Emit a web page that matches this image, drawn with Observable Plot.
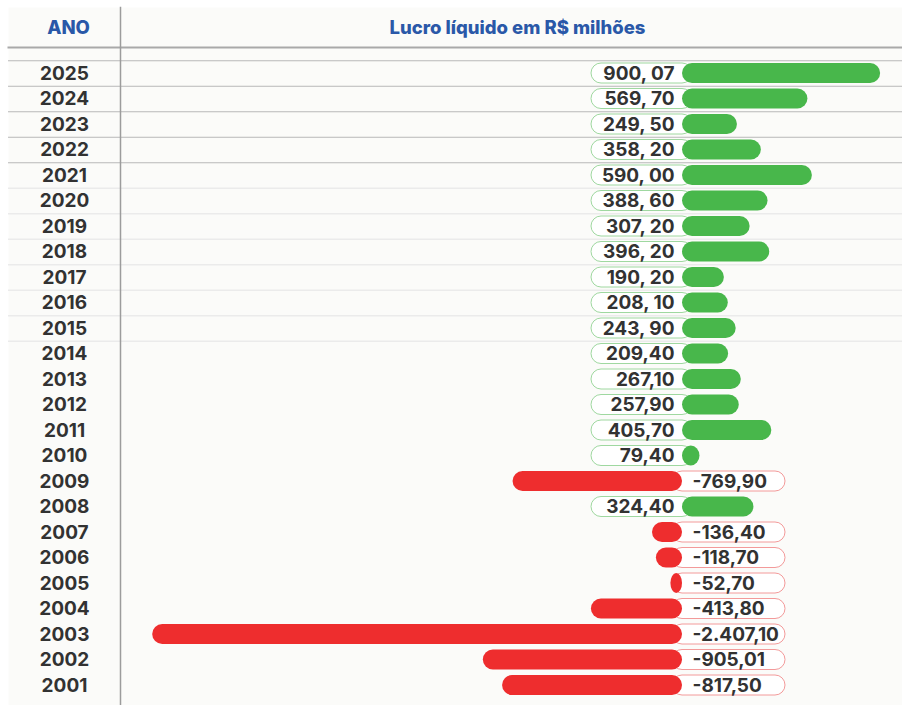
<!DOCTYPE html>
<html>
<head>
<meta charset="utf-8">
<script src="https://cdn.jsdelivr.net/npm/d3@7"></script>
<script src="https://cdn.jsdelivr.net/npm/@observablehq/plot@0.6"></script>
<style>
  html, body { margin: 0; padding: 0; background: #ffffff; }
  #chart svg { display: block; }
</style>
</head>
<body>
<div id="chart"></div>
<script>
// ---- data ----
const years = [2025, 2024, 2023, 2022, 2021, 2020, 2019, 2018, 2017, 2016, 2015, 2014, 2013,
               2012, 2011, 2010, 2009, 2008, 2007, 2006, 2005, 2004, 2003, 2002, 2001];
const values = [900.07, 569.70, 249.50, 358.20, 590.00, 388.60, 307.20, 396.20, 190.20, 208.10,
                243.90, 209.40, 267.10, 257.90, 405.70, 79.40, -769.90, 324.40, -136.40, -118.70,
                -52.70, -413.80, -2407.10, -905.01, -817.50];
const labels = ["900, 07", "569, 70", "249, 50", "358, 20", "590, 00", "388, 60", "307, 20",
                "396, 20", "190, 20", "208, 10", "243, 90", "209,40", "267,10", "257,90",
                "405,70", "79,40", "-769,90", "324,40", "-136,40", "-118,70", "-52,70",
                "-413,80", "-2.407,10", "-905,01", "-817,50"];
const headerYear = "ANO";
const headerValue = "Lucro líquido em R$ milhões";
const darkSeparatorYears = [2025, 2024, 2023, 2022];
const lightSeparatorYears = [2021, 2020, 2019, 2018, 2017, 2016, 2015];

// ---- build table ----
const data = years.map((y, i) => ({year: String(y), value: values[i], label: labels[i]}));
const pos = data.filter(d => d.value >= 0);
const neg = data.filter(d => d.value < 0);

const GREEN = "#48b74b", RED = "#ee2d2e", BLUE = "#2a58a8", TEXT = "#323232";
const FONT = "Inter, 'Noto Sans', sans-serif";

const chart = Plot.plot({
  width: 902,
  height: 705,
  marginTop: 60.25,
  marginBottom: 7.25,
  marginLeft: 0,
  marginRight: 0,
  style: {background: "transparent", fontFamily: FONT},
  x: {domain: [-3098.6, 999.5], axis: null},
  y: {domain: years.map(String), padding: 0, round: false, axis: null},
  marks: [
    // panel background
    Plot.frame({fill: "#fbfbf9", stroke: "none", insetTop: -53.25, insetBottom: -7.25, insetLeft: 8}),
    // separators
    Plot.ruleY(lightSeparatorYears, {y: d => String(d), dy: 12.75, stroke: "#ebebeb", strokeWidth: 1.5, insetLeft: 8}),
    Plot.ruleY(darkSeparatorYears, {y: d => String(d), dy: 12.75, stroke: "#b8b8b8", insetLeft: 8}),
    Plot.ruleY([years[0]], {y: d => String(d), dy: -12.75, stroke: "#b8b8b8", insetLeft: 8}),
    // header line
    Plot.frame({anchor: "top", insetTop: -13.25, insetLeft: 8, stroke: "#a9a9a9", strokeWidth: 2}),
    // vertical divider
    Plot.frame({anchor: "left", insetLeft: 120, insetTop: -53.25, insetBottom: -7.25, stroke: "#9c9c9c", strokeWidth: 1.5}),
    // header texts
    Plot.text([headerYear], {frameAnchor: "top-left", dx: 68, dy: -32.25, text: d => d,
      textAnchor: "middle", lineAnchor: "middle", fill: BLUE, fontSize: 18.5, fontWeight: 800}),
    Plot.text([headerValue], {frameAnchor: "top-left", dx: 517, dy: -32.25, text: d => d,
      textAnchor: "middle", lineAnchor: "middle", fill: BLUE, fontSize: 18.5, fontWeight: 800}),
    // year labels
    Plot.text(data, {y: "year", text: "year", frameAnchor: "left", dx: 64, textAnchor: "middle",
      fill: TEXT, fontSize: 19, fontWeight: 700}),
    // label pills
    Plot.barX(pos, {x1: 0, x2: 0, y: "year", insetLeft: -91, insetRight: -10, insetTop: 2.75, insetBottom: 2.75,
      rx: 10, fill: "#ffffff", stroke: "#9fd8a0", strokeWidth: 1}),
    Plot.barX(neg, {x1: 0, x2: 0, y: "year", insetLeft: -10, insetRight: -103, insetTop: 2.75, insetBottom: 2.75,
      rx: 10, fill: "#ffffff", stroke: "#f39a9a", strokeWidth: 1}),
    // bars
    Plot.barX(pos, {x1: 0, x2: "value", y: "year", fill: GREEN, rx: 10, insetTop: 2.75, insetBottom: 2.75}),
    Plot.barX(neg, {x1: 0, x2: "value", y: "year", fill: RED, rx: 10, insetTop: 2.75, insetBottom: 2.75}),
    // value labels
    Plot.text(pos, {x: 0, y: "year", text: "label", textAnchor: "end", dx: -8,
      fill: TEXT, fontSize: 19, fontWeight: 700}),
    Plot.text(neg, {x: 0, y: "year", text: "label", textAnchor: "start", dx: 10,
      fill: TEXT, fontSize: 19, fontWeight: 700})
  ]
});

document.getElementById("chart").appendChild(chart);
</script>
</body>
</html>
